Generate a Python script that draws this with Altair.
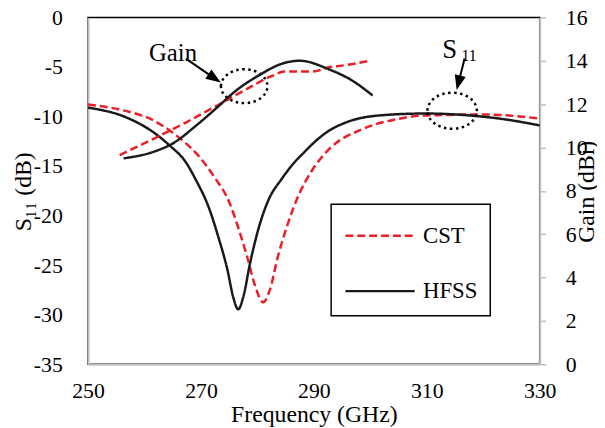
import altair as alt
import pandas as pd

FONT = "Liberation Serif"
GREY = "#bfbfbf"

series_names = ["CST", "HFSS"]
series_colors = ["#ee1c25", "#1a1a1a"]
series_dash = [[8, 4], [1, 0]]

# S11 (dB)
hfss_s11_f = [250, 256.8, 261.6, 264.4, 267.3, 269.1, 271.4, 273.1, 274.7, 275.7, 276.6, 277.5,
              278.7, 280.1, 281.9, 284.3, 286.6, 288.3, 289.7, 292.5, 295.7, 301.5, 309.7,
              317.7, 324, 330]
hfss_s11_v = [-9.1, -10.1, -11.6, -12.9, -14.6, -16.4, -19.2, -22.2, -25.5, -28.2, -29.45, -28.2,
              -24.8, -21.5, -18.5, -16.3, -14.6, -13.6, -12.8, -11.5, -10.6, -9.9, -9.7,
              -9.9, -10.3, -10.9]
cst_s11_f = [250, 255.6, 261.6, 265.6, 269.3, 272.6, 274.9, 276.6, 278.2, 279.6, 281.0, 282.2,
             283.6, 285.4, 287.1, 289.5, 292.7, 298.5, 304.4, 309.7, 320.2, 330]
cst_s11_v = [-8.8, -9.3, -10.4, -11.9, -13.8, -16.3, -18.5, -21.2, -24.2, -27.1, -28.75, -27.5,
             -24.2, -20.8, -18.2, -15.6, -13.3, -11.3, -10.3, -9.9, -9.8, -10.2]

# Gain (dBi)
hfss_gain_f = [256.3, 261.6, 265.1, 269.1, 273.1, 276.1, 280.1, 284.8, 287.5, 292.7, 296.7, 300.4]
hfss_gain_v = [9.5, 9.8, 10.2, 11.0, 11.9, 12.6, 13.3, 13.9, 14.0, 13.6, 13.1, 12.4]
cst_gain_f = [255.6, 261.6, 267.3, 273.1, 277.8, 282.6, 284.8, 289.7, 292.7, 295.7, 299.9]
cst_gain_v = [9.65, 10.4, 11.15, 11.97, 12.65, 13.3, 13.5, 13.5, 13.7, 13.8, 14.0]

x_ticks = [250, 270, 290, 310, 330]
s11_ticks = [-35, -30, -25, -20, -15, -10, -5, 0]
gain_ticks = [0, 2, 4, 6, 8, 10, 12, 14, 16]

# annotations (data coordinates on the S11 axis)
ann_text = ["Gain", "S"]
ann_text_f = [265.05, 314.07]
ann_text_v = [-4.4, -4.07]
ann_text_size = [25, 27]
sub_text = ["11"]
sub_text_f = [316.15]
sub_text_v = [-4.36]
sub_text_size = [16]

arrow_f1 = [267.33, 316.70]
arrow_v1 = [-4.16, -4.16]
arrow_f2 = [272.41, 315.61]
arrow_v2 = [-6.15, -6.61]
arrow_angle = [33.7, 104]

ring_f = [277.66, 314.5]
ring_v = [-6.94, -9.42]
ring_size = [47 * 47, 50 * 50]

ELLIPSE = "M -1 0 A 1 0.73 0 1 1 1 0 A 1 0.73 0 1 1 -1 0 Z"
ARROW = "M 1 0 L -1 -0.75 L -1 0.75 Z"
LEG_LINE = "M -1 0 L 3 0"

s11_df = pd.concat([
    pd.DataFrame({"freq": cst_s11_f, "s11": cst_s11_v, "series": "CST"}),
    pd.DataFrame({"freq": hfss_s11_f, "s11": hfss_s11_v, "series": "HFSS"}),
])
gain_df = pd.concat([
    pd.DataFrame({"freq": cst_gain_f, "gain": cst_gain_v, "series": "CST"}),
    pd.DataFrame({"freq": hfss_gain_f, "gain": hfss_gain_v, "series": "HFSS"}),
])
text_df = pd.DataFrame({"f": ann_text_f, "y": ann_text_v, "t": ann_text, "s": ann_text_size})
sub_df = pd.DataFrame({"f": sub_text_f, "y": sub_text_v, "t": sub_text, "s": sub_text_size})
arrow_df = pd.DataFrame({"f": arrow_f1, "y": arrow_v1, "f2": arrow_f2, "y2": arrow_v2,
                         "ang": arrow_angle})
ring_df = pd.DataFrame({"f": ring_f, "y": ring_v, "sz": ring_size})

legend = alt.Legend(
    title=None, orient="none", legendX=246, legendY=189,
    symbolType=LEG_LINE, symbolSize=35 * 35, symbolStrokeWidth=2.5,
    labelOffset=42, rowPadding=25, padding=13,
    strokeColor="black", fillColor="white",
    labelFont=FONT, labelFontSize=23, labelColor="black",
)
color = alt.Color("series:N", scale=alt.Scale(domain=series_names, range=series_colors), legend=legend)
dash = alt.StrokeDash("series:N", scale=alt.Scale(domain=series_names, range=series_dash), legend=legend)

XS = alt.Scale(domain=[250, 330], nice=False)
YS = alt.Scale(domain=[-35, 0], nice=False)

x_axis = alt.Axis(values=x_ticks, title="Frequency (GHz)", ticks=False, tickSize=0,
                  labelFlush=False, labelPadding=17, titlePadding=1, grid=False)
y_axis = alt.Axis(values=s11_ticks, title="S₁₁ (dB)", ticks=False, tickSize=0,
                  labelExpr="datum.value < 0 ? '-' + (-datum.value) : '' + datum.value",
                  labelPadding=26, titleX=-53, titleY=176, titleAngle=270,
                  titleBaseline="bottom", titleAlign="center", grid=False)


def X(field):
    return alt.X(field, type="quantitative", scale=XS, axis=x_axis)


def Y(field):
    return alt.Y(field, type="quantitative", scale=YS, axis=y_axis)


s11_line = alt.Chart(s11_df).mark_line(strokeWidth=2.5, interpolate="monotone").encode(
    x=X("freq"), y=Y("s11"), color=color, strokeDash=dash,
)

texts = alt.Chart(text_df).mark_text(font=FONT, baseline="alphabetic", align="center",
                                     color="black").encode(
    x=X("f"), y=Y("y"), text="t:N",
    size=alt.Size("s:Q", scale=None, legend=None),
)
subs = alt.Chart(sub_df).mark_text(font=FONT, baseline="alphabetic", align="left",
                                   color="black").encode(
    x=X("f"), y=Y("y"), text="t:N",
    size=alt.Size("s:Q", scale=None, legend=None),
)

rules = alt.Chart(arrow_df).mark_rule(strokeWidth=2, color="black").encode(
    x=X("f"), y=Y("y"), x2="f2:Q", y2="y2:Q",
)
heads = alt.Chart(arrow_df).mark_point(shape=ARROW, filled=True, color="black", opacity=1,
                                       size=225).encode(
    x=X("f2"), y=Y("y2"),
    angle=alt.Angle("ang:Q", scale=None),
)
rings = alt.Chart(ring_df).mark_point(shape=ELLIPSE, filled=False, color="black", opacity=1,
                                      strokeWidth=2.5, strokeDash=[2.5, 3.5]).encode(
    x=X("f"), y=Y("y"),
    size=alt.Size("sz:Q", scale=None, legend=None),
)

left = alt.layer(s11_line, rules, heads, rings, texts, subs)

gain_line = alt.Chart(gain_df).mark_line(strokeWidth=2.5, interpolate="monotone").encode(
    x=X("freq"),
    y=alt.Y("gain:Q", scale=alt.Scale(domain=[0, 16], nice=False),
            axis=alt.Axis(values=gain_ticks, title="Gain (dBi)", orient="right", ticks=True,
                          tickSize=6, tickColor=GREY, tickWidth=1.5, labelPadding=20,
                          titleX=35, titleY=176, titleAngle=270, titleBaseline="top",
                          titleAlign="center", grid=False)),
    color=color, strokeDash=dash,
)

chart = alt.layer(left, gain_line).resolve_scale(y="independent").properties(
    width=457, height=351,
    autosize=alt.AutoSizeParams(type="none"),
    padding={"left": 81, "top": 7, "right": 58, "bottom": 62},
).configure_view(
    stroke="black", strokeWidth=1.5
).configure_axis(
    labelFont=FONT, labelFontSize=22, labelColor="black",
    titleFont=FONT, titleFontSize=24, titleFontWeight="normal", titleColor="black",
    domainColor=GREY, domainWidth=2,
).configure_legend(
    strokeWidth=1.5
)

chart.save("out.html", embed_options={"renderer": "svg", "actions": False})
